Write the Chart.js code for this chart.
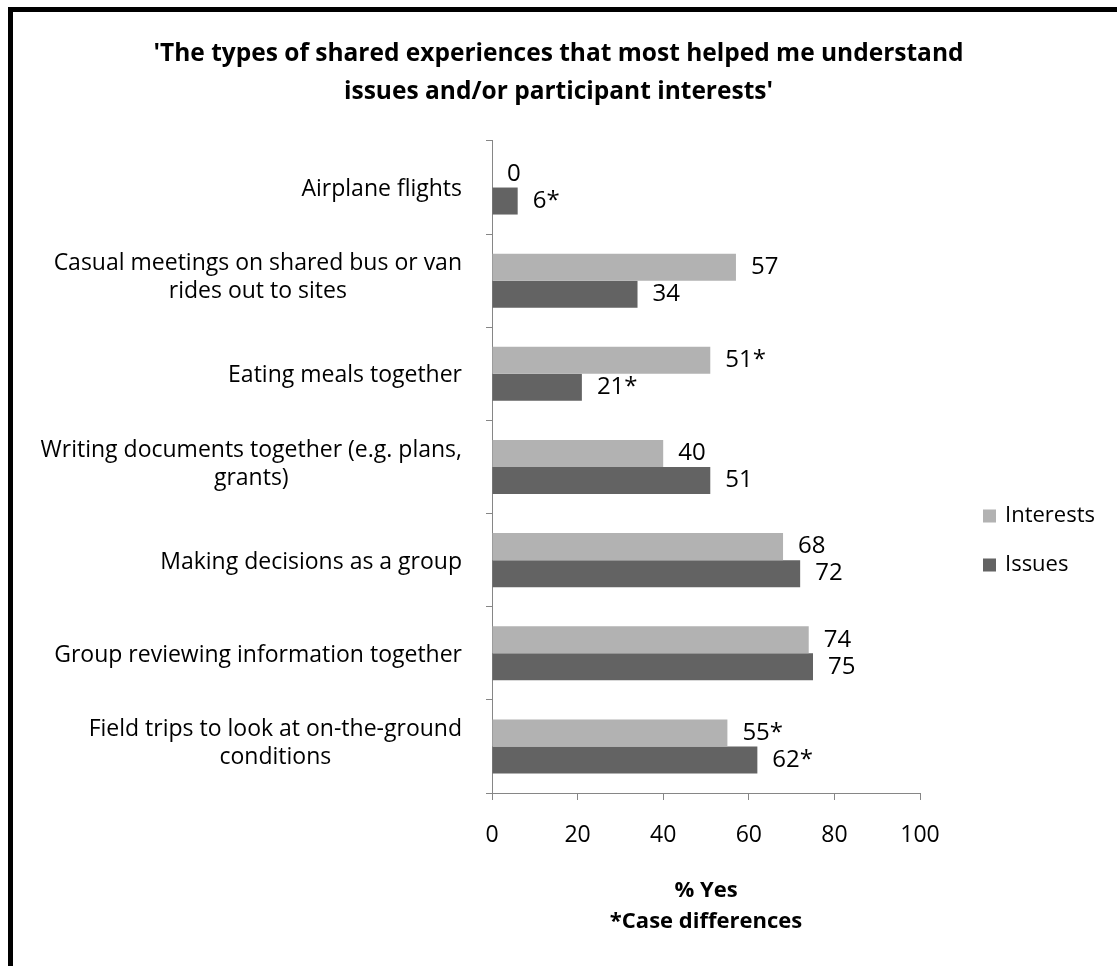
<!DOCTYPE html>
<html>
<head>
<meta charset="utf-8">
<title>Shared experiences</title>
<script src="https://cdn.jsdelivr.net/npm/chart.js@4.4.1/dist/chart.umd.min.js"></script>
<style>
  html, body { margin: 0; padding: 0; background: #fff; }
  #wrap { position: relative; width: 1117px; height: 966px; overflow: hidden; }
  #frame { position: absolute; left: 8px; top: 7px; right: 0; bottom: -10px;
           border-left: 5px solid #000; border-top: 5px solid #000; }
  #chart { position: absolute; left: 0; top: 0; }
</style>
</head>
<body>
<div id="wrap">
  <div id="frame"></div>
  <canvas id="chart" width="1117" height="966"></canvas>
</div>
<script>
const FONT = "'Open Sans', 'DejaVu Sans', sans-serif";

// categories, top to bottom (wrapped the way the axis shows them)
const categories = [
  ['Airplane flights'],
  ['Casual meetings on shared bus or van', 'rides out to sites'],
  ['Eating meals together'],
  ['Writing documents together (e.g. plans,', 'grants)'],
  ['Making decisions as a group'],
  ['Group reviewing information together'],
  ['Field trips to look at on-the-ground', 'conditions']
];

// % yes
const interests = [0, 57, 51, 40, 68, 74, 55];
const issues = [6, 34, 21, 51, 72, 75, 62];

// case differences (shown with *)
const interestsStar = [false, false, true, false, false, false, true];
const issuesStar = [true, false, true, false, false, false, true];

const xTicks = [0, 20, 40, 60, 80, 100];

const COL_INTERESTS = '#b2b2b2';
const COL_ISSUES = '#636363';
const AXIS = '#868686';

// wrapped category labels: block right-aligned to the axis, lines centred inside it
const categoryLabels = {
  id: 'categoryLabels',
  afterDraw(chart) {
    const { ctx, chartArea } = chart;
    const y = chart.scales.y;
    const lineH = 28;
    ctx.save();
    ctx.font = '23px ' + FONT;
    ctx.fillStyle = '#000';
    ctx.textAlign = 'center';
    ctx.textBaseline = 'middle';
    categories.forEach((lines, i) => {
      const cy = y.getPixelForValue(i);
      const w = Math.max(...lines.map(l => ctx.measureText(l).width));
      const cx = chartArea.left - 30 - w / 2;
      const shift = lines.length === 1 ? 2 : -3;
      const y0 = cy - (lines.length - 1) * lineH / 2 + shift;
      lines.forEach((l, k) => ctx.fillText(l, cx, y0 + k * lineH));
    });
    ctx.restore();
  }
};

// value labels just past the end of each bar
const valueLabels = {
  id: 'valueLabels',
  afterDatasetsDraw(chart) {
    const { ctx } = chart;
    const stars = [interestsStar, issuesStar];
    ctx.save();
    ctx.font = '24px ' + FONT;
    ctx.fillStyle = '#000';
    ctx.textAlign = 'left';
    ctx.textBaseline = 'middle';
    chart.data.datasets.forEach((ds, i) => {
      chart.getDatasetMeta(i).data.forEach((bar, j) => {
        const txt = ds.data[j] + (stars[i][j] ? '*' : '');
        ctx.fillText(txt, bar.x + 15, bar.y);
      });
    });
    ctx.restore();
  }
};

// legend to the right of the plot, Excel style
const sideLegend = {
  id: 'sideLegend',
  afterDraw(chart) {
    const { ctx, chartArea } = chart;
    const x = chartArea.right + 63;
    const yTop = 516;
    ctx.save();
    ctx.font = '22px ' + FONT;
    ctx.textBaseline = 'middle';
    ctx.textAlign = 'left';
    chart.data.datasets.forEach((ds, i) => {
      const cy = yTop + i * 49;
      ctx.fillStyle = ds.backgroundColor;
      ctx.fillRect(x, cy - 6.5, 13, 13);
      ctx.fillStyle = '#000';
      ctx.fillText(ds.label, x + 22, cy);
    });
    ctx.restore();
  }
};

new Chart(document.getElementById('chart'), {
  type: 'bar',
  data: {
    labels: categories.map(c => c.join(' ')),
    datasets: [
      { label: 'Interests', data: interests, backgroundColor: COL_INTERESTS,
        categoryPercentage: 0.58, barPercentage: 1 },
      { label: 'Issues', data: issues, backgroundColor: COL_ISSUES,
        categoryPercentage: 0.58, barPercentage: 1 }
    ]
  },
  options: {
    indexAxis: 'y',
    responsive: false,
    animation: false,
    events: [],
    layout: { padding: 0 },
    plugins: {
      legend: { display: false },
      tooltip: { enabled: false },
      title: {
        display: true,
        text: ["'The types of shared experiences that most helped me understand",
               "issues and/or participant interests'"],
        color: '#000',
        font: { family: FONT, size: 24.5, weight: 'bold', lineHeight: 1.55 },
        padding: { top: 35, bottom: 30 }
      }
    },
    scales: {
      y: {
        type: 'category',
        grid: { offset: true, drawOnChartArea: false, tickLength: 6, color: AXIS },
        border: { color: AXIS },
        ticks: { display: false },
        afterFit(s) { s.width = 492; }
      },
      // empty strip on the right that holds the legend
      side: {
        type: 'linear',
        position: 'right',
        grid: { display: false },
        border: { display: false },
        ticks: { display: false },
        afterFit(s) { s.width = 197; }
      },
      x: {
        min: 0,
        max: 100,
        afterBuildTicks(s) { s.ticks = xTicks.map(v => ({ value: v })); },
        grid: { drawOnChartArea: false, tickLength: 7, color: AXIS },
        border: { color: AXIS },
        ticks: { color: '#000', font: { family: FONT, size: 23 }, padding: 22 },
        title: {
          display: true,
          text: ['% Yes', '*Case differences'],
          color: '#000',
          font: { family: FONT, size: 22, weight: 'bold', lineHeight: 1.4 },
          padding: { top: 0, bottom: 29 }
        },
        afterFit(s) { s.height = 173; }
      }
    }
  },
  plugins: [categoryLabels, valueLabels, sideLegend]
});
</script>
</body>
</html>
